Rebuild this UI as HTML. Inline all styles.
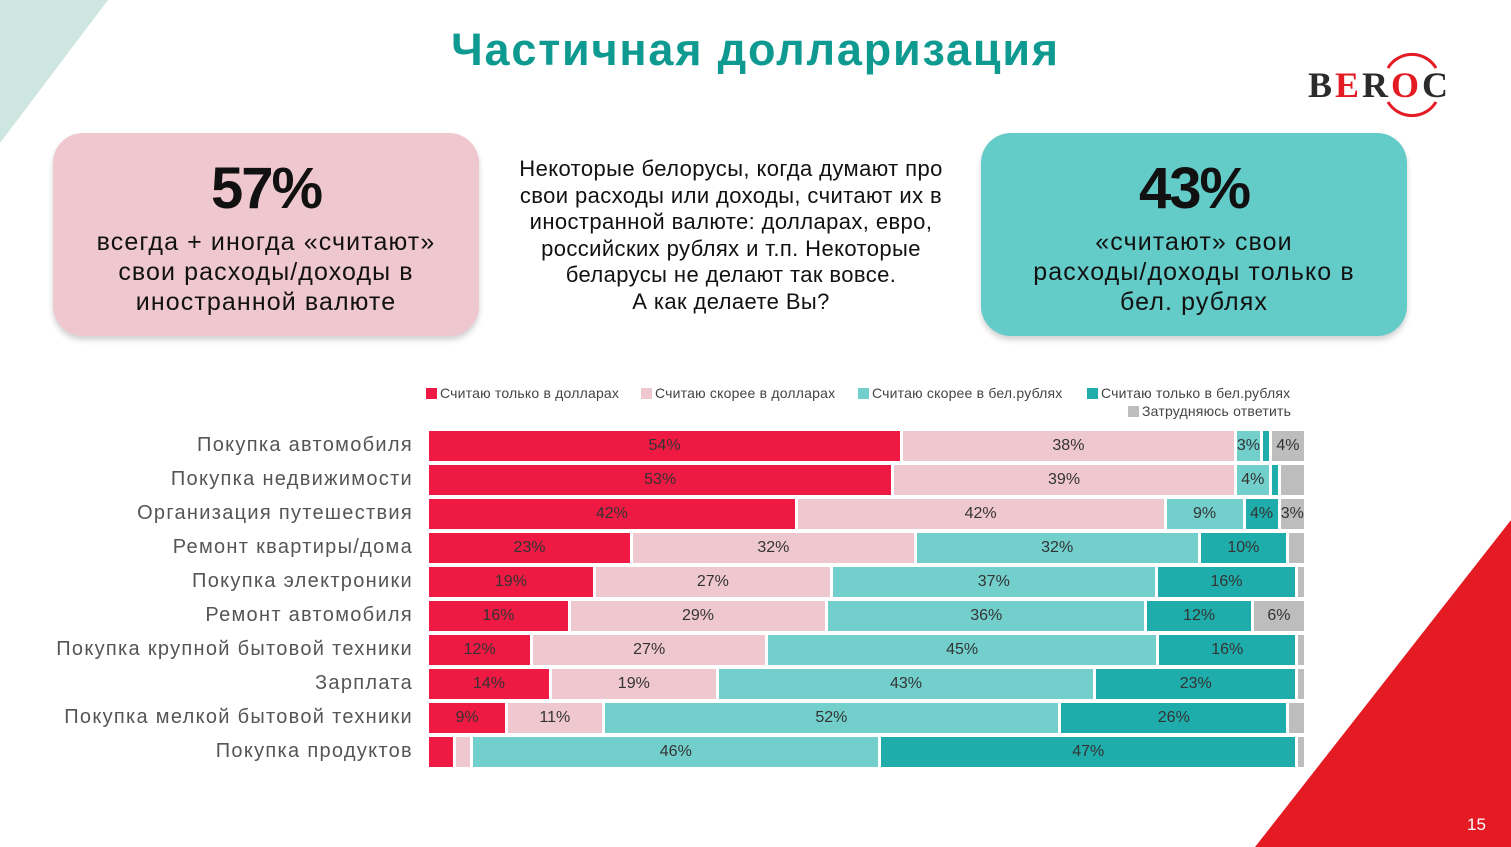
<!DOCTYPE html>
<html><head><meta charset="utf-8">
<style>
body{margin:0;width:1511px;height:847px;overflow:hidden;background:#fff;font-family:"Liberation Sans",sans-serif;position:relative}
.abs{position:absolute}
.card{position:absolute;top:133px;width:426px;height:203px;border-radius:30px;box-shadow:0 4px 6px rgba(0,0,0,0.18);text-align:center;color:#111}
.big{font-size:58px;font-weight:bold;margin-top:24px;line-height:64px;letter-spacing:-2px}
.sub{font-size:25px;line-height:30px;margin-top:6px;letter-spacing:1.1px}
.lab{position:absolute;right:1098px;font-size:20px;color:#555;text-align:right;white-space:nowrap;letter-spacing:1.3px}
.seg{position:absolute;height:30px;line-height:30px;text-align:center;font-size:16px;color:#333;overflow:hidden}
.leg{font-size:14px;color:#444;position:absolute;white-space:nowrap;letter-spacing:0.2px}
.leg i{display:inline-block;width:11px;height:11px;margin-right:3px;vertical-align:-1px}
</style></head><body>
<svg class="abs" style="left:0;top:0" width="1511" height="847">
<polygon points="0,0 108,0 0,143" fill="#cde6e0"/>
<polygon points="1511,520 1511,847 1255,847" fill="#e51b24"/>
</svg>
<div class="abs" style="left:1467px;top:815px;color:#fff;font-size:17px">15</div>
<div class="abs" style="left:0;width:1511px;top:24px;text-align:center;font-size:45px;font-weight:bold;color:#0e9a90;letter-spacing:1.8px">Частичная долларизация</div>
<div class="abs" style="left:1306px;top:52px;width:160px;height:66px">
<svg width="160" height="66" class="abs" style="left:0;top:0"><path d="M 82 16 A 28 28 0 0 1 130 16" stroke="#e51b24" stroke-width="3" fill="none"/><path d="M 82 50 A 28 28 0 0 0 130 50" stroke="#e51b24" stroke-width="3" fill="none"/></svg>
<div class="abs" style="left:2px;top:12px;font-family:'Liberation Serif',serif;font-size:36px;font-weight:bold;letter-spacing:3px;color:#2b2b2b">B<span style="color:#e51b24">E</span>R<span style="color:#e51b24">O</span>C</div>
</div>
<div class="card" style="left:53px;background:#efc8cf"><div class="big">57%</div><div class="sub">всегда + иногда «считают»<br>свои расходы/доходы в<br>иностранной валюте</div></div>
<div class="card" style="left:981px;background:#63cbc8"><div class="big">43%</div><div class="sub">«считают» свои<br>расходы/доходы только в<br>бел. рублях</div></div>
<div class="abs" style="left:496px;width:470px;top:156px;text-align:center;font-size:22px;line-height:26.5px;color:#111;letter-spacing:0.4px">Некоторые белорусы, когда думают про<br>свои расходы или доходы, считают их в иностранной валюте: долларах, евро, российских рублях и т.п. Некоторые беларусы не делают так вовсе.<br>А как делаете Вы?</div>
<div id="legend"></div>
<div id="chart"></div>
<script>
const categories=["Покупка автомобиля","Покупка недвижимости","Организация путешествия","Ремонт квартиры/дома","Покупка электроники","Ремонт автомобиля","Покупка крупной бытовой техники","Зарплата","Покупка мелкой бытовой техники","Покупка продуктов"];
const seriesNames=["Считаю только в долларах","Считаю скорее в долларах","Считаю скорее в бел.рублях","Считаю только в бел.рублях","Затрудняюсь ответить"];
const onlyUsd=[54,53,42,23,19,16,12,14,9,3];
const ratherUsd=[38,39,42,32,27,29,27,19,11,2];
const ratherByn=[3,4,9,32,37,36,45,43,52,46];
const onlyByn=[1,1,4,10,16,12,16,23,26,47];
const hard=[4,3,3,2,1,6,1,1,2,1];
const showLabel=[[1,1,1,0,1],[1,1,1,0,0],[1,1,1,1,1],[1,1,1,1,0],[1,1,1,1,0],[1,1,1,1,1],[1,1,1,1,0],[1,1,1,1,0],[1,1,1,1,0],[0,0,1,1,0]];
const colors=["#ef1a43","#efc8cf","#72cfcc","#1fadac","#bdbdbe"];
const series=[onlyUsd,ratherUsd,ratherByn,onlyByn,hard];
const X0=429,W=878,Y0=431,STEP=34,H=30;
const chart=document.getElementById('chart');
categories.forEach((c,i)=>{
  const l=document.createElement('div');l.className='lab';l.textContent=c;
  l.style.top=(Y0+i*STEP+3)+'px';
  
  
  chart.appendChild(l);
  const tot=series.reduce((s,a)=>s+a[i],0);
  let acc=0;
  series.forEach((a,k)=>{
    const x=X0+acc/tot*W, w=a[i]/tot*W; acc+=a[i];
    const s=document.createElement('div');s.className='seg';
    s.style.left=x+'px';s.style.width=Math.max(w-3,1)+'px';s.style.top=(Y0+i*STEP)+'px';s.style.background=colors[k];
    if(showLabel[i][k]) s.textContent=a[i]+'%';
    
    
    chart.appendChild(s);
  });
});
const legend=document.getElementById('legend');
const lpos=[[426,385],[641,385],[858,385],[1087,385],[1128,403]];
seriesNames.forEach((n,k)=>{
  const e=document.createElement('div');e.className='leg';
  e.style.left=lpos[k][0]+'px';e.style.top=lpos[k][1]+'px';
  e.innerHTML='<i style="background:'+colors[k]+'"></i>'+n;
  
  
  legend.appendChild(e);
});
</script>
</body></html>
